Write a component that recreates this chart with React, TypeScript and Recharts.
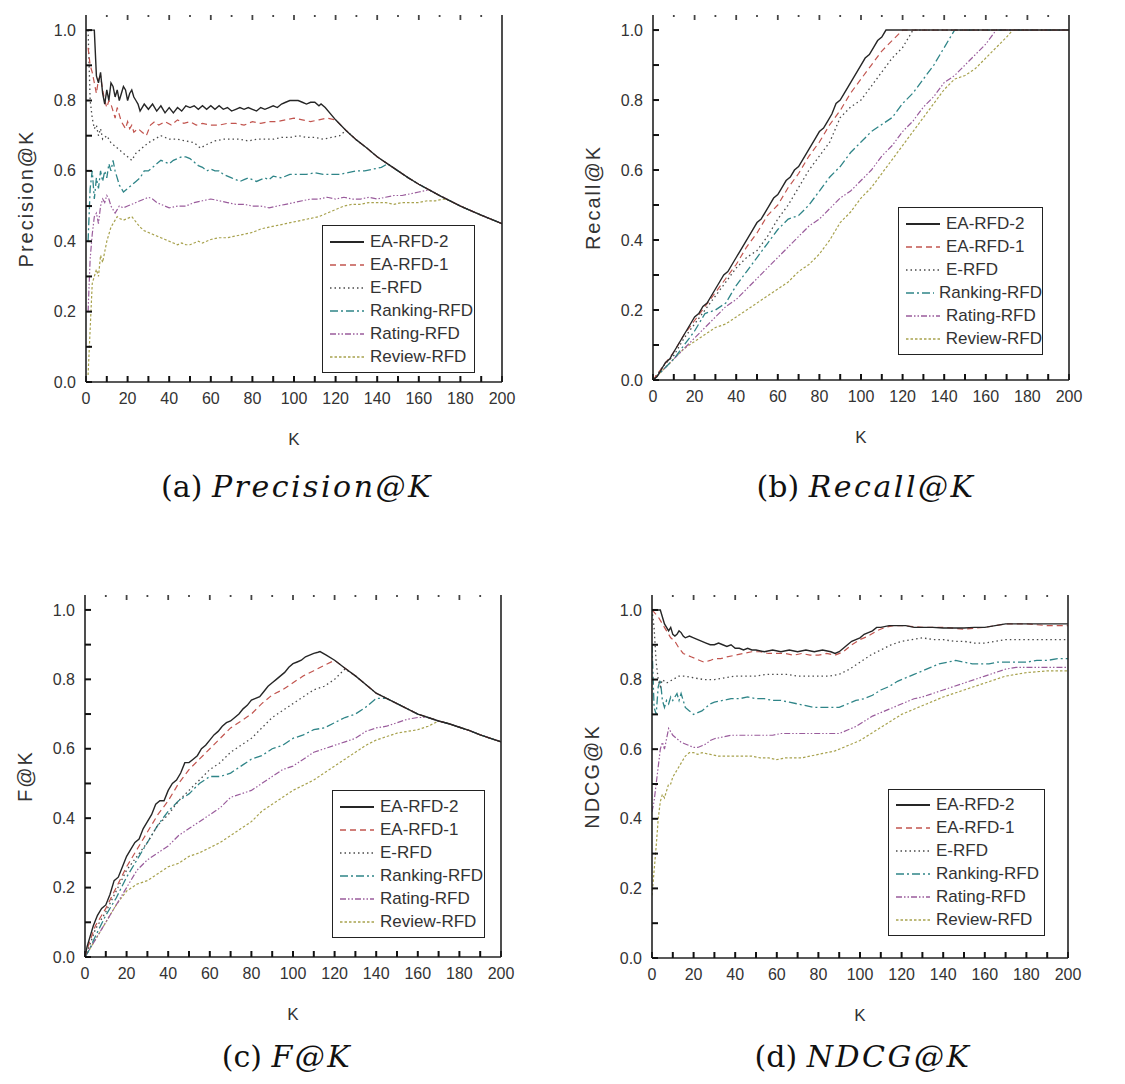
import React from 'react'
import { LineChart, Line, XAxis, YAxis } from 'recharts'

type Pt = [number, number]

const SERIES_NAMES = ['EA-RFD-2', 'EA-RFD-1', 'E-RFD', 'Ranking-RFD', 'Rating-RFD', 'Review-RFD']
const K_TICKS = [0, 10, 20, 30, 40, 50, 60, 70, 80, 90, 100, 110, 120, 130, 140, 150, 160, 170, 180, 190, 200]
const Y_TICKS = [0, 0.1, 0.2, 0.3, 0.4, 0.5, 0.6, 0.7, 0.8, 0.9, 1.0]

// ---- (a) Precision@K ----
const precTail: Pt[] = [[113, 0.79], [115, 0.78], [120, 0.745], [125, 0.715], [130, 0.688], [135, 0.665], [140, 0.64], [145, 0.62], [150, 0.6], [155, 0.58], [160, 0.562], [165, 0.546], [170, 0.53], [175, 0.515], [180, 0.5], [185, 0.487], [190, 0.474], [195, 0.462], [200, 0.45]]
const precEA2: Pt[] = [[1, 1], [2, 1], [3, 1], [4, 1], [5, 0.87], [6, 0.85], [7, 0.88], [8, 0.82], [9, 0.79], [10, 0.83], [11, 0.8], [12, 0.85], [13, 0.84], [14, 0.81], [15, 0.83], [16, 0.8], [17, 0.82], [18, 0.84], [19, 0.83], [20, 0.8], [21, 0.82], [22, 0.83], [23, 0.81], [24, 0.8], [25, 0.79], [26, 0.77], [28, 0.79], [30, 0.775], [32, 0.79], [34, 0.77], [36, 0.785], [38, 0.765], [40, 0.78], [42, 0.765], [44, 0.78], [46, 0.77], [48, 0.785], [50, 0.78], [52, 0.785], [54, 0.775], [56, 0.785], [58, 0.775], [60, 0.785], [62, 0.775], [64, 0.785], [66, 0.775], [68, 0.78], [70, 0.77], [72, 0.775], [74, 0.78], [76, 0.775], [78, 0.78], [80, 0.775], [82, 0.77], [84, 0.78], [86, 0.775], [88, 0.78], [90, 0.785], [92, 0.78], [94, 0.79], [96, 0.795], [98, 0.8], [100, 0.8], [102, 0.8], [104, 0.795], [106, 0.79], [108, 0.795], [110, 0.795], [112, 0.785]]
const precEA1: Pt[] = [[1, 0.95], [2, 0.9], [3, 0.88], [4, 0.85], [5, 0.82], [6, 0.86], [7, 0.87], [8, 0.83], [9, 0.8], [10, 0.78], [11, 0.8], [12, 0.79], [13, 0.77], [14, 0.75], [15, 0.78], [16, 0.76], [17, 0.74], [18, 0.73], [19, 0.72], [20, 0.74], [21, 0.72], [22, 0.73], [23, 0.71], [25, 0.72], [27, 0.71], [29, 0.7], [31, 0.73], [33, 0.74], [35, 0.73], [38, 0.74], [41, 0.73], [44, 0.745], [47, 0.735], [50, 0.74], [53, 0.73], [56, 0.735], [60, 0.73], [64, 0.73], [68, 0.735], [72, 0.735], [76, 0.73], [80, 0.74], [84, 0.735], [88, 0.74], [92, 0.74], [96, 0.745], [100, 0.75], [104, 0.745], [108, 0.74], [112, 0.745], [116, 0.75], [120, 0.745]]
const precE: Pt[] = [[1, 1], [2, 0.8], [3, 0.75], [4, 0.72], [5, 0.73], [6, 0.7], [7, 0.72], [8, 0.69], [10, 0.7], [12, 0.68], [14, 0.67], [16, 0.66], [18, 0.65], [20, 0.64], [22, 0.63], [24, 0.65], [26, 0.66], [28, 0.67], [30, 0.68], [33, 0.69], [36, 0.7], [40, 0.69], [44, 0.69], [48, 0.685], [52, 0.68], [55, 0.665], [58, 0.675], [62, 0.685], [66, 0.69], [70, 0.69], [74, 0.69], [78, 0.685], [82, 0.69], [86, 0.69], [90, 0.69], [94, 0.695], [98, 0.695], [102, 0.7], [106, 0.695], [110, 0.695], [114, 0.69], [118, 0.695], [122, 0.7]]
const precRanking: Pt[] = [[1, 0.4], [2, 0.55], [3, 0.6], [4, 0.52], [5, 0.58], [6, 0.55], [7, 0.6], [8, 0.57], [9, 0.6], [10, 0.58], [11, 0.62], [12, 0.6], [13, 0.63], [14, 0.6], [15, 0.58], [16, 0.56], [17, 0.55], [18, 0.54], [20, 0.55], [22, 0.56], [24, 0.57], [26, 0.58], [28, 0.6], [30, 0.6], [32, 0.61], [34, 0.62], [36, 0.63], [38, 0.625], [40, 0.62], [42, 0.63], [44, 0.635], [46, 0.64], [48, 0.64], [50, 0.635], [52, 0.625], [54, 0.615], [56, 0.61], [58, 0.6], [60, 0.605], [62, 0.6], [64, 0.6], [66, 0.59], [68, 0.585], [70, 0.58], [72, 0.575], [74, 0.57], [76, 0.575], [78, 0.58], [80, 0.575], [82, 0.57], [84, 0.575], [86, 0.58], [88, 0.575], [90, 0.585], [94, 0.58], [98, 0.59], [102, 0.59], [106, 0.59], [110, 0.595], [114, 0.59], [118, 0.59], [122, 0.59], [126, 0.595], [130, 0.6], [134, 0.6], [138, 0.605], [142, 0.61], [145, 0.62]]
const precRating: Pt[] = [[1, 0.2], [2, 0.35], [3, 0.42], [4, 0.47], [5, 0.48], [6, 0.45], [7, 0.5], [8, 0.52], [9, 0.51], [10, 0.53], [11, 0.52], [12, 0.5], [13, 0.49], [14, 0.48], [15, 0.49], [16, 0.5], [18, 0.495], [20, 0.5], [22, 0.505], [24, 0.51], [26, 0.515], [28, 0.52], [30, 0.525], [32, 0.52], [34, 0.51], [36, 0.505], [38, 0.5], [40, 0.495], [44, 0.5], [48, 0.5], [52, 0.51], [56, 0.515], [60, 0.52], [64, 0.515], [68, 0.51], [72, 0.505], [76, 0.505], [80, 0.5], [84, 0.5], [88, 0.495], [92, 0.5], [96, 0.505], [100, 0.51], [104, 0.515], [108, 0.52], [112, 0.52], [116, 0.525], [120, 0.52], [124, 0.525], [128, 0.52], [132, 0.52], [136, 0.525], [140, 0.52], [144, 0.525], [148, 0.53], [152, 0.53], [156, 0.535], [160, 0.54], [165, 0.546]]
const precReview: Pt[] = [[1, 0.02], [2, 0.15], [3, 0.28], [4, 0.3], [5, 0.32], [6, 0.3], [7, 0.36], [8, 0.34], [9, 0.37], [10, 0.4], [11, 0.42], [12, 0.44], [13, 0.45], [14, 0.46], [15, 0.47], [16, 0.465], [18, 0.46], [20, 0.465], [22, 0.47], [24, 0.455], [26, 0.44], [28, 0.43], [30, 0.425], [32, 0.42], [34, 0.415], [36, 0.41], [38, 0.405], [40, 0.4], [42, 0.395], [44, 0.39], [46, 0.395], [48, 0.39], [50, 0.39], [52, 0.395], [54, 0.4], [56, 0.395], [58, 0.4], [60, 0.405], [64, 0.41], [68, 0.41], [72, 0.415], [76, 0.42], [80, 0.425], [84, 0.435], [88, 0.44], [92, 0.445], [96, 0.45], [100, 0.455], [104, 0.46], [108, 0.465], [112, 0.47], [116, 0.48], [120, 0.49], [124, 0.5], [128, 0.505], [132, 0.505], [136, 0.51], [140, 0.51], [144, 0.51], [148, 0.505], [152, 0.51], [156, 0.51], [160, 0.51], [164, 0.515], [168, 0.515], [172, 0.52]]

// ---- (b) Recall@K ----
const recTail: Pt[] = [[113, 1], [200, 1]]
const recEA2: Pt[] = [[0, 0], [2, 0.01], [4, 0.03], [6, 0.05], [8, 0.06], [10, 0.08], [12, 0.1], [14, 0.12], [16, 0.14], [18, 0.16], [20, 0.18], [22, 0.19], [24, 0.21], [26, 0.22], [28, 0.24], [30, 0.26], [32, 0.28], [34, 0.3], [36, 0.31], [38, 0.33], [40, 0.35], [42, 0.37], [44, 0.39], [46, 0.41], [48, 0.43], [50, 0.45], [52, 0.46], [54, 0.48], [56, 0.5], [58, 0.52], [60, 0.53], [62, 0.55], [64, 0.57], [66, 0.58], [68, 0.6], [70, 0.61], [72, 0.63], [74, 0.65], [76, 0.67], [78, 0.69], [80, 0.71], [82, 0.72], [84, 0.74], [86, 0.76], [88, 0.79], [90, 0.8], [92, 0.82], [94, 0.84], [96, 0.86], [98, 0.88], [100, 0.9], [102, 0.92], [104, 0.93], [106, 0.95], [108, 0.97], [110, 0.98], [112, 1]]
const recEA1: Pt[] = [[0, 0], [5, 0.04], [10, 0.08], [15, 0.13], [20, 0.17], [25, 0.21], [30, 0.25], [35, 0.29], [40, 0.33], [45, 0.38], [50, 0.42], [55, 0.47], [60, 0.5], [65, 0.55], [70, 0.59], [75, 0.64], [80, 0.68], [85, 0.73], [90, 0.77], [95, 0.82], [100, 0.86], [105, 0.9], [110, 0.94], [115, 0.97], [120, 1]]
const recE: Pt[] = [[0, 0], [5, 0.04], [10, 0.07], [15, 0.12], [20, 0.16], [25, 0.2], [30, 0.24], [35, 0.28], [40, 0.32], [45, 0.35], [50, 0.37], [55, 0.41], [60, 0.46], [65, 0.5], [70, 0.55], [75, 0.6], [80, 0.64], [85, 0.68], [90, 0.75], [95, 0.78], [100, 0.8], [105, 0.84], [110, 0.88], [115, 0.92], [120, 0.95], [125, 1]]
const recRanking: Pt[] = [[0, 0], [5, 0.03], [10, 0.06], [15, 0.1], [20, 0.14], [25, 0.19], [30, 0.2], [35, 0.22], [40, 0.27], [45, 0.31], [50, 0.35], [55, 0.39], [60, 0.43], [65, 0.46], [70, 0.47], [75, 0.5], [80, 0.54], [85, 0.58], [90, 0.61], [95, 0.65], [100, 0.68], [105, 0.71], [110, 0.73], [115, 0.75], [120, 0.79], [125, 0.82], [130, 0.86], [135, 0.9], [140, 0.95], [145, 1]]
const recRating: Pt[] = [[0, 0], [5, 0.03], [10, 0.06], [15, 0.09], [20, 0.12], [25, 0.15], [30, 0.18], [35, 0.21], [40, 0.23], [45, 0.26], [50, 0.29], [55, 0.32], [60, 0.35], [65, 0.38], [70, 0.41], [75, 0.44], [80, 0.46], [85, 0.49], [90, 0.52], [95, 0.54], [100, 0.57], [105, 0.6], [110, 0.64], [115, 0.67], [120, 0.71], [125, 0.74], [130, 0.78], [135, 0.81], [140, 0.85], [145, 0.87], [150, 0.9], [155, 0.93], [160, 0.96], [165, 1]]
const recReview: Pt[] = [[0, 0], [5, 0.03], [10, 0.06], [15, 0.09], [20, 0.11], [25, 0.13], [30, 0.15], [35, 0.16], [40, 0.18], [45, 0.2], [50, 0.22], [55, 0.24], [60, 0.26], [65, 0.28], [70, 0.31], [75, 0.33], [80, 0.36], [85, 0.4], [90, 0.45], [95, 0.48], [100, 0.52], [105, 0.55], [110, 0.59], [115, 0.63], [120, 0.67], [125, 0.71], [130, 0.75], [135, 0.79], [140, 0.83], [145, 0.86], [150, 0.87], [155, 0.89], [160, 0.92], [165, 0.95], [170, 0.98], [173, 1]]

// ---- (c) F@K ----
const fTail: Pt[] = [[113, 0.88], [116, 0.87], [120, 0.855], [125, 0.832], [130, 0.81], [135, 0.785], [140, 0.76], [145, 0.745], [150, 0.73], [155, 0.715], [160, 0.7], [165, 0.69], [170, 0.68], [175, 0.672], [180, 0.662], [185, 0.652], [190, 0.64], [195, 0.63], [200, 0.62]]
const fEA2: Pt[] = [[0, 0], [1, 0.03], [2, 0.05], [4, 0.09], [6, 0.12], [8, 0.14], [10, 0.15], [12, 0.18], [14, 0.22], [16, 0.23], [18, 0.26], [20, 0.29], [22, 0.31], [24, 0.33], [26, 0.34], [28, 0.37], [30, 0.39], [32, 0.41], [34, 0.44], [36, 0.45], [38, 0.45], [40, 0.48], [42, 0.5], [44, 0.51], [46, 0.53], [48, 0.56], [50, 0.56], [52, 0.57], [54, 0.58], [56, 0.6], [58, 0.61], [60, 0.625], [62, 0.64], [64, 0.65], [66, 0.665], [68, 0.675], [70, 0.68], [72, 0.69], [74, 0.7], [76, 0.715], [78, 0.725], [80, 0.74], [82, 0.745], [84, 0.75], [86, 0.765], [88, 0.78], [90, 0.79], [92, 0.8], [94, 0.81], [96, 0.82], [98, 0.835], [100, 0.845], [102, 0.85], [104, 0.855], [106, 0.865], [108, 0.87], [110, 0.875], [112, 0.878]]
const fEA1: Pt[] = [[0, 0], [2, 0.04], [5, 0.09], [10, 0.14], [15, 0.2], [20, 0.26], [25, 0.31], [30, 0.36], [35, 0.41], [40, 0.45], [45, 0.5], [50, 0.54], [55, 0.57], [60, 0.6], [65, 0.63], [70, 0.66], [75, 0.68], [80, 0.7], [85, 0.73], [90, 0.755], [95, 0.77], [100, 0.79], [105, 0.81], [110, 0.825], [115, 0.84], [120, 0.855]]
const fE: Pt[] = [[0, 0], [2, 0.03], [5, 0.08], [10, 0.13], [15, 0.19], [20, 0.25], [25, 0.29], [30, 0.33], [35, 0.38], [40, 0.41], [45, 0.45], [50, 0.48], [55, 0.51], [60, 0.54], [65, 0.56], [70, 0.59], [75, 0.61], [80, 0.63], [85, 0.66], [90, 0.69], [95, 0.71], [100, 0.73], [105, 0.75], [110, 0.77], [115, 0.78], [120, 0.8], [125, 0.83]]
const fRanking: Pt[] = [[0, 0], [2, 0.02], [5, 0.06], [10, 0.12], [15, 0.17], [20, 0.23], [25, 0.28], [30, 0.33], [35, 0.38], [40, 0.42], [45, 0.45], [50, 0.47], [55, 0.5], [60, 0.52], [65, 0.52], [70, 0.53], [75, 0.55], [80, 0.57], [85, 0.58], [90, 0.6], [95, 0.61], [100, 0.63], [105, 0.64], [110, 0.655], [115, 0.66], [120, 0.675], [125, 0.69], [130, 0.7], [135, 0.72], [140, 0.745], [145, 0.745]]
const fRating: Pt[] = [[0, 0], [2, 0.02], [5, 0.05], [10, 0.1], [15, 0.15], [20, 0.2], [25, 0.25], [30, 0.28], [35, 0.3], [40, 0.32], [45, 0.35], [50, 0.37], [55, 0.39], [60, 0.41], [65, 0.43], [70, 0.46], [75, 0.47], [80, 0.48], [85, 0.5], [90, 0.52], [95, 0.54], [100, 0.55], [105, 0.57], [110, 0.59], [115, 0.6], [120, 0.61], [125, 0.62], [130, 0.63], [135, 0.65], [140, 0.66], [145, 0.665], [150, 0.675], [155, 0.685], [160, 0.69], [165, 0.69]]
const fReview: Pt[] = [[0, 0], [2, 0.02], [5, 0.05], [10, 0.1], [15, 0.15], [20, 0.19], [25, 0.21], [30, 0.22], [35, 0.24], [40, 0.26], [45, 0.27], [50, 0.29], [55, 0.3], [60, 0.315], [65, 0.33], [70, 0.35], [75, 0.37], [80, 0.39], [85, 0.42], [90, 0.44], [95, 0.46], [100, 0.48], [105, 0.495], [110, 0.51], [115, 0.53], [120, 0.55], [125, 0.57], [130, 0.59], [135, 0.61], [140, 0.625], [145, 0.635], [150, 0.645], [155, 0.65], [160, 0.655], [165, 0.665], [170, 0.68]]

// ---- (d) NDCG@K ----
const ndcgEA2: Pt[] = [[0, 1], [2, 1], [4, 1], [5, 0.98], [6, 0.96], [7, 0.95], [8, 0.94], [9, 0.95], [10, 0.93], [11, 0.925], [12, 0.93], [13, 0.94], [14, 0.935], [15, 0.925], [16, 0.92], [18, 0.925], [20, 0.92], [22, 0.915], [24, 0.91], [26, 0.905], [28, 0.9], [30, 0.9], [32, 0.905], [34, 0.9], [36, 0.895], [38, 0.9], [40, 0.89], [42, 0.89], [44, 0.885], [46, 0.89], [48, 0.885], [50, 0.885], [54, 0.88], [58, 0.885], [62, 0.88], [66, 0.885], [70, 0.88], [74, 0.885], [78, 0.88], [82, 0.885], [86, 0.88], [88, 0.875], [90, 0.88], [92, 0.89], [94, 0.9], [96, 0.91], [98, 0.915], [100, 0.92], [102, 0.93], [104, 0.935], [106, 0.94], [108, 0.95], [110, 0.95], [114, 0.955], [118, 0.955], [122, 0.955], [126, 0.95], [130, 0.95], [135, 0.95], [140, 0.948], [145, 0.948], [150, 0.948], [155, 0.95], [160, 0.95], [165, 0.955], [170, 0.96], [175, 0.96], [180, 0.96], [185, 0.96], [190, 0.96], [195, 0.96], [200, 0.96]]
const ndcgEA1: Pt[] = [[0, 1], [3, 0.98], [5, 0.96], [7, 0.94], [9, 0.92], [11, 0.91], [13, 0.89], [15, 0.875], [17, 0.87], [19, 0.865], [21, 0.86], [23, 0.855], [25, 0.85], [28, 0.855], [30, 0.86], [33, 0.86], [36, 0.865], [40, 0.87], [44, 0.875], [48, 0.88], [52, 0.88], [56, 0.875], [60, 0.875], [64, 0.875], [68, 0.87], [72, 0.875], [76, 0.87], [80, 0.87], [84, 0.875], [88, 0.87], [92, 0.88], [96, 0.9], [100, 0.915], [104, 0.925], [108, 0.94], [112, 0.95], [116, 0.955], [120, 0.955], [130, 0.95], [140, 0.95], [150, 0.945], [160, 0.95], [165, 0.955], [170, 0.96], [180, 0.96], [190, 0.955], [200, 0.955]]
const ndcgE: Pt[] = [[0, 1], [1, 0.95], [2, 0.85], [3, 0.8], [4, 0.78], [5, 0.8], [7, 0.79], [10, 0.8], [13, 0.81], [16, 0.81], [20, 0.805], [25, 0.8], [30, 0.8], [35, 0.805], [40, 0.81], [45, 0.81], [50, 0.81], [55, 0.815], [60, 0.815], [65, 0.815], [70, 0.81], [75, 0.81], [80, 0.81], [85, 0.81], [90, 0.815], [95, 0.83], [100, 0.85], [105, 0.87], [110, 0.885], [115, 0.9], [120, 0.91], [125, 0.915], [130, 0.92], [135, 0.915], [140, 0.915], [145, 0.91], [150, 0.91], [155, 0.905], [160, 0.905], [165, 0.91], [170, 0.915], [180, 0.915], [190, 0.915], [200, 0.915]]
const ndcgRanking: Pt[] = [[0, 0.9], [1, 0.72], [2, 0.7], [3, 0.78], [4, 0.8], [5, 0.74], [6, 0.72], [7, 0.74], [8, 0.73], [9, 0.75], [10, 0.74], [11, 0.75], [12, 0.76], [13, 0.74], [14, 0.76], [15, 0.74], [16, 0.72], [18, 0.71], [20, 0.7], [22, 0.705], [24, 0.71], [26, 0.72], [28, 0.73], [30, 0.735], [34, 0.74], [38, 0.745], [42, 0.745], [46, 0.75], [50, 0.745], [54, 0.745], [58, 0.74], [62, 0.74], [66, 0.735], [70, 0.73], [74, 0.725], [78, 0.72], [82, 0.72], [86, 0.72], [90, 0.72], [94, 0.73], [98, 0.74], [102, 0.745], [106, 0.755], [110, 0.77], [114, 0.78], [118, 0.795], [122, 0.805], [126, 0.815], [130, 0.825], [134, 0.835], [138, 0.845], [142, 0.85], [146, 0.855], [150, 0.85], [154, 0.845], [158, 0.845], [162, 0.845], [166, 0.85], [170, 0.85], [175, 0.85], [180, 0.85], [185, 0.855], [190, 0.855], [195, 0.86], [200, 0.86]]
const ndcgRating: Pt[] = [[0, 0.42], [1, 0.45], [2, 0.5], [3, 0.55], [4, 0.6], [5, 0.62], [6, 0.6], [7, 0.63], [8, 0.66], [9, 0.65], [10, 0.64], [12, 0.63], [14, 0.62], [16, 0.615], [18, 0.61], [20, 0.605], [22, 0.605], [24, 0.61], [26, 0.615], [28, 0.625], [30, 0.63], [34, 0.635], [38, 0.64], [42, 0.64], [46, 0.64], [50, 0.64], [54, 0.64], [58, 0.64], [62, 0.645], [66, 0.645], [70, 0.645], [74, 0.645], [78, 0.645], [82, 0.645], [86, 0.645], [90, 0.645], [94, 0.655], [98, 0.665], [102, 0.68], [106, 0.695], [110, 0.705], [114, 0.715], [118, 0.725], [122, 0.735], [126, 0.745], [130, 0.75], [135, 0.76], [140, 0.77], [145, 0.78], [150, 0.79], [155, 0.8], [160, 0.81], [165, 0.82], [170, 0.83], [175, 0.835], [180, 0.835], [190, 0.835], [200, 0.835]]
const ndcgReview: Pt[] = [[0, 0.18], [1, 0.25], [2, 0.32], [3, 0.4], [4, 0.45], [5, 0.47], [6, 0.46], [7, 0.48], [8, 0.5], [9, 0.5], [10, 0.52], [12, 0.54], [14, 0.56], [16, 0.58], [18, 0.59], [20, 0.59], [22, 0.585], [24, 0.59], [28, 0.585], [32, 0.58], [36, 0.58], [40, 0.58], [44, 0.58], [48, 0.58], [52, 0.575], [56, 0.575], [60, 0.57], [64, 0.575], [68, 0.575], [72, 0.575], [76, 0.58], [80, 0.585], [84, 0.59], [88, 0.595], [92, 0.605], [96, 0.615], [100, 0.625], [104, 0.64], [108, 0.655], [112, 0.67], [116, 0.685], [120, 0.7], [124, 0.71], [128, 0.72], [132, 0.73], [136, 0.74], [140, 0.75], [145, 0.76], [150, 0.77], [155, 0.78], [160, 0.79], [165, 0.8], [170, 0.81], [175, 0.815], [180, 0.82], [190, 0.825], [200, 0.825]]

// line look per method, same order as SERIES_NAMES
const STYLES = [
  { color: '#262626', dash: undefined as string | undefined, width: 1.4 },
  { color: '#c2554f', dash: '6 4', width: 1.2 },
  { color: '#4a4a4a', dash: '1.5 3', width: 1.3 },
  { color: '#2f8588', dash: '8 3 2 3', width: 1.3 },
  { color: '#9a5c9c', dash: '6 2 1.5 2 1.5 2', width: 1.2 },
  { color: '#a8a24e', dash: '2.5 2', width: 1.2 },
]

const withTail = (head: Pt[], tail: Pt[]) => [...head, ...tail.filter((p) => p[0] > head[head.length - 1][0])]

const FONT = '"Liberation Sans", Arial, sans-serif'
const INK = '#333'
const Y_MAX = 1.043
const TICK_LINE = { stroke: '#111', strokeWidth: 2 }

interface Rect { x: number; y: number; w: number; h: number }
interface PanelProps {
  plot: Rect
  legend: Rect
  yTitle: string
  letter: string
  caption: string
  captionX: number
  captionY: number
  series: Pt[][]
}

// labels only on the major ticks; the tick marks come from tickLine (drawn inward)
function LeftLabel(props: any) {
  const { x, y, payload } = props
  const major = Math.round(payload.value * 10) % 2 === 0
  if (!major) return <g />
  return (
    <text x={x} y={y} dy="0.35em" textAnchor="end" fontSize={16} fontFamily={FONT} fill={INK}>
      {payload.value.toFixed(1)}
    </text>
  )
}

function BottomLabel(props: any) {
  const { x, y, payload } = props
  if (payload.value % 20 !== 0) return <g />
  return (
    <text x={x} y={y} dy="0.35em" textAnchor="middle" fontSize={16} fontFamily={FONT} fill={INK}>
      {payload.value}
    </text>
  )
}

function TopTick(props: any) {
  const { x, y, payload } = props
  const major = payload.value % 20 === 0
  if (payload.value === 0 || payload.value === 200) return <g />
  return <line x1={x} y1={y} x2={x} y2={y + (major ? 5 : 2)} stroke="#444" strokeWidth={1.8} />
}

function LegendBox({ box }: { box: Rect }) {
  return (
    <div
      style={{
        position: 'absolute', left: box.x, top: box.y, width: box.w, height: box.h,
        border: '1.6px solid #222', background: '#fff', boxSizing: 'border-box',
        padding: '4px 0 0 6px', fontFamily: FONT, fontSize: 17, color: INK,
      }}
    >
      {SERIES_NAMES.map((name, i) => (
        <div key={name} style={{ display: 'flex', alignItems: 'center', height: (box.h - 10) / 6 }}>
          <svg width={36} height={10} style={{ marginRight: 5 }}>
            <line x1={1} y1={5} x2={35} y2={5} stroke={STYLES[i].color} strokeWidth={STYLES[i].width + 0.4}
              strokeDasharray={STYLES[i].dash} />
          </svg>
          <span style={{ whiteSpace: 'nowrap' }}>{name}</span>
        </div>
      ))}
    </div>
  )
}

function Panel({ plot, legend, yTitle, letter, caption, captionX, captionY, series }: PanelProps) {
  const left = plot.x - 90
  const top = plot.y - 15
  const width = plot.w + 120
  const height = plot.h + 15 + 70
  const order = [5, 4, 3, 2, 1, 0]
  return (
    <>
      <div style={{ position: 'absolute', left, top }}>
        <LineChart width={width} height={height} margin={{ top: 14, right: 29, left: 20, bottom: 8 }}>
          <XAxis dataKey="k" type="number" domain={[0, 200]} ticks={K_TICKS} allowDataOverflow
            height={62} tickSize={-6} tickMargin={22} tickLine={TICK_LINE} tick={BottomLabel} interval={0}
            axisLine={{ stroke: '#222', strokeWidth: 1.6 }}
            label={{ value: 'K', position: 'insideBottom', offset: -1, fontSize: 17, fontFamily: FONT, fill: INK }} />
          <XAxis xAxisId="top" orientation="top" dataKey="k" type="number" domain={[0, 200]} ticks={K_TICKS}
            allowDataOverflow height={1} tickSize={0} tickMargin={0} tickLine={false} tick={TopTick}
            interval={0} axisLine={false} />
          <YAxis type="number" domain={[0, Y_MAX]} ticks={Y_TICKS} allowDataOverflow width={70}
            tickSize={-6} tickMargin={16} tickLine={TICK_LINE} tick={LeftLabel} interval={0}
            axisLine={{ stroke: '#222', strokeWidth: 1.6 }}
            label={{ value: yTitle, angle: -90, position: 'insideLeft', offset: 10, fontSize: 20,
              fontFamily: FONT, fill: INK, style: { textAnchor: 'middle', letterSpacing: 2 } }} />
          <YAxis yAxisId="right" orientation="right" type="number" domain={[0, Y_MAX]} ticks={Y_TICKS}
            allowDataOverflow width={1} tickSize={-6} tickMargin={0} tickLine={TICK_LINE} tick={false}
            interval={0} axisLine={{ stroke: '#222', strokeWidth: 1.6 }} />
          {order.map((i) => (
            <Line key={SERIES_NAMES[i]} name={SERIES_NAMES[i]} data={series[i].map(([k, v]) => ({ k, v }))}
              dataKey="v" type="linear" stroke={STYLES[i].color} strokeWidth={STYLES[i].width}
              strokeDasharray={STYLES[i].dash} dot={false} activeDot={false} isAnimationActive={false} />
          ))}
        </LineChart>
      </div>
      <LegendBox box={legend} />
      <div
        style={{
          position: 'absolute', left: captionX - 250, top: captionY - 22, width: 500, textAlign: 'center',
          fontFamily: '"DejaVu Serif", "Liberation Serif", serif', fontSize: 30, lineHeight: '44px', color: '#111',
        }}
      >
        ({letter}) <span style={{ fontStyle: 'italic', letterSpacing: 2.5 }}>{caption}</span>
      </div>
    </>
  )
}

export default function App() {
  return (
    <div style={{ position: 'absolute', left: 0, top: 0, width: 1125, height: 1084, background: '#fff', overflow: 'hidden' }}>
      <Panel
        plot={{ x: 86, y: 15, w: 416, h: 367 }}
        legend={{ x: 322, y: 225, w: 153, h: 148 }}
        yTitle="Precision@K" letter="a" caption="Precision@K" captionX={297} captionY={487}
        series={[withTail(precEA2, precTail), withTail(precEA1, precTail), withTail(precE, precTail),
          withTail(precRanking, precTail), withTail(precRating, precTail), withTail(precReview, precTail)]}
      />
      <Panel
        plot={{ x: 653, y: 15, w: 416, h: 365 }}
        legend={{ x: 898, y: 207, w: 145, h: 148 }}
        yTitle="Recall@K" letter="b" caption="Recall@K" captionX={866} captionY={487}
        series={[withTail(recEA2, recTail), withTail(recEA1, recTail), withTail(recE, recTail),
          withTail(recRanking, recTail), withTail(recRating, recTail), withTail(recReview, recTail)]}
      />
      <Panel
        plot={{ x: 85, y: 595, w: 416, h: 362 }}
        legend={{ x: 332, y: 790, w: 153, h: 148 }}
        yTitle="F@K" letter="c" caption="F@K" captionX={287} captionY={1057}
        series={[withTail(fEA2, fTail), withTail(fEA1, fTail), withTail(fE, fTail),
          withTail(fRanking, fTail), withTail(fRating, fTail), withTail(fReview, fTail)]}
      />
      <Panel
        plot={{ x: 652, y: 595, w: 416, h: 363 }}
        legend={{ x: 888, y: 789, w: 157, h: 147 }}
        yTitle="NDCG@K" letter="d" caption="NDCG@K" captionX={863} captionY={1057}
        series={[ndcgEA2, ndcgEA1, ndcgE, ndcgRanking, ndcgRating, ndcgReview]}
      />
    </div>
  )
}
